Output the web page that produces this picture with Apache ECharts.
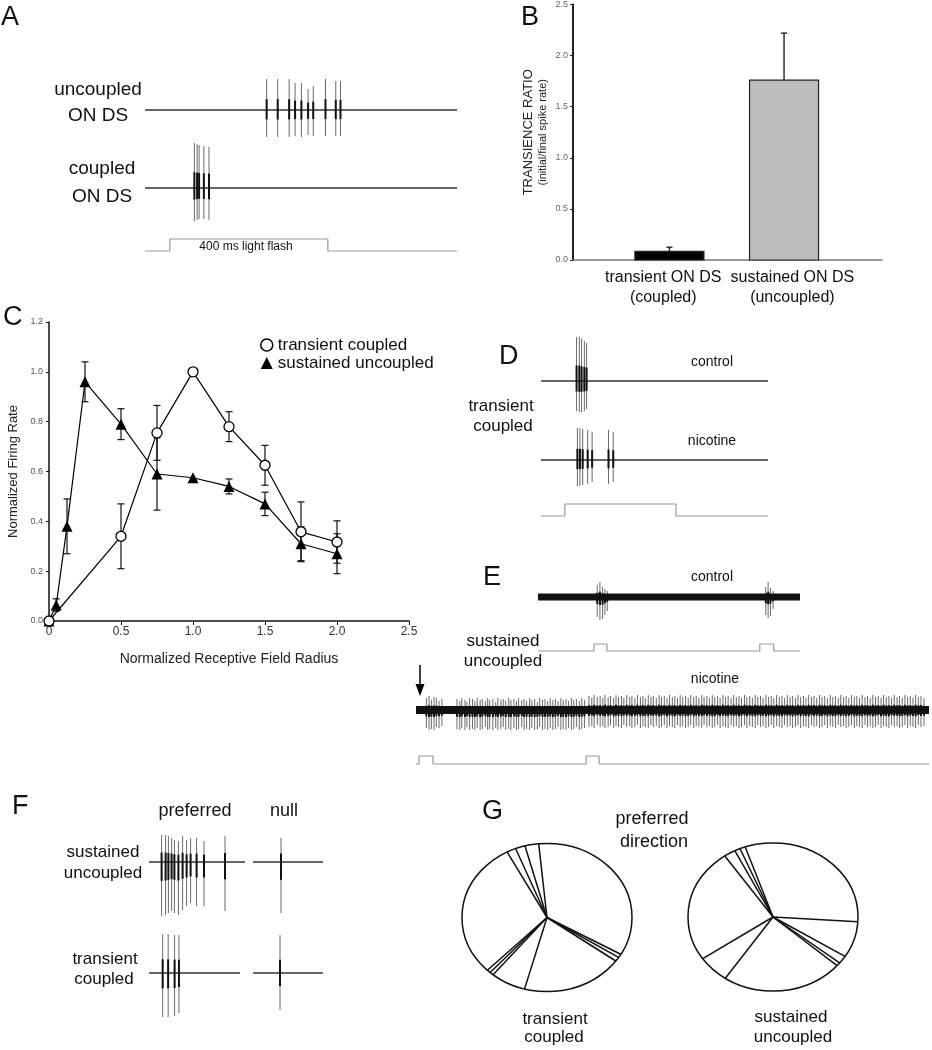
<!DOCTYPE html>
<html>
<head>
<meta charset="utf-8">
<title>ON DS cells: coupled vs uncoupled</title>
<script src="https://cdn.jsdelivr.net/npm/echarts@6/dist/echarts.min.js"></script>
<style>
  html, body { margin: 0; padding: 0; background: #fff; }
  #chart { width: 932px; height: 1050px; }
</style>
</head>
<body>
<div id="chart"></div>
<script>
const FONT = "'Liberation Sans', Arial, sans-serif";

// ---- A: responses to a 400 ms flash (time ms; spikes are [t, up, down])
const aRange = [-63, 727];
const aFlash = [[0, 400]];
const aUncoupledSpikes = [[245, 31, 27], [273, 31, 27], [302, 31, 27], [317, 27, 26], [333, 27, 27],
  [350, 21, 25], [363, 24, 26], [394, 31, 26], [420, 29, 26], [432, 29, 26]];
const aCoupledSpikes = [[62, 45, 33], [69, 44, 32], [74, 43, 31], [86, 42, 31], [99, 41, 32]];

// ---- B: transience ratio
const bCategories = ['transient ON DS\n(coupled)', 'sustained ON DS\n(uncoupled)'];
const bPositions = [0.312, 0.683];
const bLabelPositions = [0.292, 0.71];
const bValues = [0.085, 1.76];
const bErrors = [0.04, 0.46];

// ---- C: area-response curves
const cTransX = [0, 0.5, 0.75, 1.0, 1.25, 1.5, 1.75, 2.0];
const cTransY = [0, 0.34, 0.755, 1.0, 0.78, 0.625, 0.358, 0.317];
const cTransErr = [0, 0.13, 0.11, 0, 0.06, 0.08, 0.12, 0.085];
const cSustX = [0, 0.05, 0.125, 0.25, 0.5, 0.75, 1.0, 1.25, 1.5, 1.75, 2.0];
const cSustY = [0, 0.064, 0.38, 0.96, 0.79, 0.59, 0.575, 0.54, 0.47, 0.31, 0.27];
const cSustErr = [0, 0.025, 0.11, 0.08, 0.062, 0.145, 0, 0.03, 0.047, 0.068, 0.08];

// ---- D: transient coupled, control vs nicotine (ms)
const dRange = [-86, 731];
const dFlash = [[0, 400]];
const dControlSpikes = [[42, 44, 30], [52, 44, 31], [60, 42, 31], [70, 40, 30], [78, 38, 28]];
const dNicotineSpikes = [[45, 32, 26], [54, 32, 26], [64, 31, 25], [82, 30, 24], [98, 28, 22], [157, 30, 24], [174, 28, 22]];

// ---- E: sustained uncoupled, repeated flashes (s)
const eControlRange = [0, 15.7];
const eControlFlash = [[3.35, 4.13], [13.29, 14.13]];
const eControlSpikes = [[3.55, 12, 20], [3.71, 15, 23], [3.87, 10, 22], [4.01, 8, 18], [4.15, 6, 14],
  [13.65, 10, 18], [13.79, 15, 21], [13.93, 9, 19], [14.09, 6, 12]];
const eNicotineRange = [0, 30.7];
const eNicotineFlash = [[0.18, 1.02], [10.18, 10.96]];
const eNicotineSpikes = [
  [0.62, 12, 18], [0.78, 14, 20], [0.92, 10, 19], [1.08, 13, 20], [1.22, 12, 17], [1.38, 9, 18], [1.55, 11, 16],
  [2.45, 11, 19], [2.62, 9, 20], [2.74, 12, 18], [2.93, 10, 20], [3.05, 8, 17], [3.21, 12, 20], [3.38, 11, 19],
  [3.52, 9, 20], [3.66, 12, 18], [3.84, 10, 20], [3.97, 11, 19], [4.15, 9, 17], [4.29, 12, 20], [4.41, 10, 19],
  [4.6, 11, 20], [4.77, 8, 18], [4.9, 12, 20], [5.08, 10, 19], [5.22, 11, 17], [5.37, 9, 20], [5.55, 12, 19],
  [5.68, 10, 20], [5.86, 11, 18], [6.01, 9, 20], [6.14, 12, 19], [6.33, 10, 17], [6.47, 11, 20], [6.62, 9, 19],
  [6.8, 12, 20], [6.93, 10, 18], [7.1, 11, 20], [7.26, 8, 19], [7.4, 12, 17], [7.57, 10, 20], [7.72, 11, 19],
  [7.88, 9, 20], [8.03, 12, 18], [8.19, 10, 20], [8.34, 11, 19], [8.5, 9, 17], [8.67, 12, 20], [8.81, 10, 19],
  [8.98, 11, 20], [9.13, 9, 18], [9.3, 12, 20], [9.44, 10, 19], [9.6, 11, 17], [9.77, 9, 20], [9.92, 12, 19],
  [10.08, 10, 18],
  [10.35, 14, 17], [10.52, 12, 16], [10.66, 15, 18], [10.85, 13, 15], [11.02, 14, 17], [11.18, 12, 16],
  [11.31, 15, 18], [11.5, 13, 17], [11.64, 14, 15], [11.83, 12, 18], [11.97, 15, 16], [12.12, 13, 17],
  [12.3, 14, 18], [12.44, 12, 15], [12.61, 15, 17], [12.79, 13, 16], [12.92, 14, 18], [13.1, 12, 17],
  [13.25, 15, 15], [13.43, 13, 18], [13.58, 14, 16], [13.72, 12, 17], [13.9, 15, 18], [14.06, 13, 15],
  [14.2, 14, 17], [14.38, 12, 16], [14.55, 15, 18], [14.69, 13, 17], [14.86, 14, 15], [15.02, 12, 18],
  [15.17, 15, 16], [15.34, 13, 17], [15.49, 14, 18], [15.65, 12, 15], [15.81, 15, 17], [15.96, 13, 16],
  [16.13, 14, 18], [16.29, 12, 17], [16.44, 15, 15], [16.62, 13, 18], [16.77, 14, 16], [16.93, 12, 17],
  [17.1, 15, 18], [17.24, 13, 15], [17.41, 14, 17], [17.57, 12, 16], [17.73, 15, 18], [17.88, 13, 17],
  [18.05, 14, 15], [18.2, 12, 18], [18.37, 15, 16], [18.53, 13, 17], [18.68, 14, 18], [18.86, 12, 15],
  [19.01, 15, 17], [19.17, 13, 16], [19.33, 14, 18], [19.48, 12, 17], [19.66, 15, 15], [19.8, 13, 18],
  [19.97, 14, 16], [20.13, 12, 17], [20.3, 15, 18], [20.45, 13, 15], [20.62, 14, 17], [20.77, 12, 16],
  [20.94, 15, 18], [21.1, 13, 17], [21.26, 14, 15], [21.41, 12, 18], [21.58, 15, 16], [21.74, 13, 17],
  [21.9, 14, 18], [22.06, 12, 15], [22.22, 15, 17], [22.39, 13, 16], [22.54, 14, 18], [22.71, 12, 17],
  [22.86, 15, 15], [23.02, 13, 18], [23.19, 14, 16], [23.34, 12, 17], [23.5, 15, 18], [23.67, 13, 15],
  [23.82, 14, 17], [23.98, 12, 16], [24.15, 15, 18], [24.3, 13, 17], [24.46, 14, 15], [24.62, 12, 18],
  [24.79, 15, 16], [24.94, 13, 17], [25.1, 14, 18], [25.27, 12, 15], [25.42, 15, 17], [25.58, 13, 16],
  [25.74, 14, 18], [25.9, 12, 17], [26.06, 15, 15], [26.23, 13, 18], [26.38, 14, 16], [26.54, 12, 17],
  [26.7, 15, 18], [26.87, 13, 15], [27.02, 14, 17], [27.18, 12, 16], [27.34, 15, 18], [27.5, 13, 17],
  [27.66, 14, 15], [27.83, 12, 18], [27.98, 15, 16], [28.14, 13, 17], [28.3, 14, 18], [28.46, 12, 15],
  [28.62, 15, 17], [28.79, 13, 16], [28.94, 14, 18], [29.1, 12, 17], [29.26, 15, 15], [29.42, 13, 18],
  [29.58, 14, 16], [29.74, 12, 17], [29.9, 15, 18], [30.06, 13, 15], [30.22, 14, 17], [30.4, 12, 16]
];

// ---- F: moving-bar responses (ms)
const fPrefRange = [0, 480];
const fNullRange = [0, 350];
const fSustPrefSpikes = [[63, 27, 54], [83, 27, 53], [97, 26, 51], [113, 24, 49], [127, 22, 51], [147, 21, 53],
  [168, 26, 48], [188, 22, 44], [208, 24, 41], [238, 24, 44], [275, 21, 44], [380, 26, 49]];
const fSustNullSpikes = [[140, 24, 51]];
const fTransPrefSpikes = [[72, 39, 44], [101, 39, 44], [135, 38, 43], [158, 38, 40]];
const fTransNullSpikes = [[135, 38, 37]];

// ---- G: preferred directions (degrees, counter-clockwise from right)
const gTransientDirs = [95.6, 105, 111.6, 117.9, 225.5, 228, 230.6, 254.7, 324, 327.4, 330.2];
const gSustainedDirs = [109.1, 112.8, 116.6, 124.5, 214.3, 235.9, 318.9, 321.6, 327.9, 356.4];

// ------------------------------------------------------------------
const grid = [], xAxis = [], yAxis = [], series = [];

function addGrid(box, xa, ya) {
  const i = grid.length;
  grid.push(box);
  xAxis.push(Object.assign({ gridIndex: i }, xa));
  yAxis.push(Object.assign({ gridIndex: i }, ya));
  return i;
}
function hidden(min, max) {
  return { type: 'value', min: min, max: max, show: false, splitLine: { show: false } };
}

function spikeRender(params, api) {
  const t = api.value(0);
  const top = api.coord([t, api.value(1)]);
  const bot = api.coord([t, -api.value(2)]);
  const mid = api.coord([t, 0]);
  return {
    type: 'group',
    children: [
      { type: 'line', shape: { x1: top[0], y1: top[1], x2: bot[0], y2: bot[1] },
        style: { stroke: '#6a6a6a', lineWidth: 1 } },
      { type: 'line', shape: { x1: mid[0], y1: mid[1] - (mid[1] - top[1]) * 0.35,
        x2: mid[0], y2: mid[1] + (bot[1] - mid[1]) * 0.35 },
        style: { stroke: '#111', lineWidth: 2 } }
    ]
  };
}

function addTrace(range, box, spikes, band) {
  const i = addGrid({ left: box.left, top: box.base - box.half, width: box.right - box.left, height: box.half * 2 },
    hidden(range[0], range[1]), hidden(-box.half, box.half));
  series.push({ type: 'line', xAxisIndex: i, yAxisIndex: i, data: [[range[0], 0], [range[1], 0]],
    symbol: 'none', silent: true, clip: false, z: band ? 4 : 2,
    lineStyle: { color: band ? '#111' : '#333', width: band || 1.3 } });
  series.push({ type: 'custom', xAxisIndex: i, yAxisIndex: i, data: spikes, renderItem: spikeRender,
    silent: true, z: 3 });
}

function addStim(range, box, pulses) {
  const i = addGrid({ left: box.left, top: box.high, width: box.right - box.left, height: box.low - box.high },
    hidden(range[0], range[1]), hidden(0, 1));
  const pts = [[range[0], 0]];
  pulses.forEach(function (p) { pts.push([p[0], 0], [p[0], 1], [p[1], 1], [p[1], 0]); });
  pts.push([range[1], 0]);
  series.push({ type: 'line', xAxisIndex: i, yAxisIndex: i, data: pts, symbol: 'none', silent: true,
    clip: false, lineStyle: { color: '#9a9a9a', width: 1.2 } });
}

// A
addTrace(aRange, { left: 145, right: 457, base: 110, half: 36 }, aUncoupledSpikes);
addTrace(aRange, { left: 145, right: 457, base: 188, half: 48 }, aCoupledSpikes);
addStim(aRange, { left: 145, right: 457, high: 239, low: 251 }, aFlash);

// B
const bi = addGrid({ left: 573, top: 4, width: 309, height: 256 },
  {
    type: 'value', min: 0, max: 1,
    axisLine: { show: true, lineStyle: { color: '#777', width: 1.5 } },
    axisTick: { show: false },
    splitLine: { show: false },
    axisLabel: {
      customValues: bLabelPositions,
      formatter: function (v) { return bCategories[bLabelPositions.indexOf(v)] || ''; },
      fontSize: 16, lineHeight: 20, color: '#111', margin: 8, fontFamily: FONT
    }
  },
  {
    type: 'value', min: 0, max: 2.5, interval: 0.5,
    axisLine: { show: true, lineStyle: { color: '#222', width: 2 } },
    axisTick: { show: true, length: 3, lineStyle: { color: '#222' } },
    splitLine: { show: false },
    axisLabel: { fontSize: 9, color: '#666', margin: 5, fontFamily: FONT,
      formatter: function (v) { return v.toFixed(1); } },
    name: '{t|TRANSIENCE RATIO}\n{s|(initial/final spike rate)}',
    nameLocation: 'middle', nameRotate: 90, nameGap: 24,
    nameTextStyle: { rich: {
      t: { fontSize: 13, lineHeight: 15, color: '#222', fontFamily: FONT },
      s: { fontSize: 11, lineHeight: 13, color: '#222', fontFamily: FONT }
    } }
  });
const bFill = ['#000', '#bdbdbd'];
series.push({
  type: 'custom', xAxisIndex: bi, yAxisIndex: bi, silent: true,
  data: bPositions.map(function (p, k) { return [p, bValues[k], bValues[k] + bErrors[k]]; }),
  renderItem: function (params, api) {
    const x = api.value(0);
    const p0 = api.coord([x, 0]), p1 = api.coord([x, api.value(1)]), p2 = api.coord([x, api.value(2)]);
    const w = 69;
    return { type: 'group', children: [
      { type: 'line', shape: { x1: p1[0], y1: p1[1], x2: p2[0], y2: p2[1] }, style: { stroke: '#333', lineWidth: 1.5 } },
      { type: 'line', shape: { x1: p2[0] - 3, y1: p2[1], x2: p2[0] + 3, y2: p2[1] }, style: { stroke: '#333', lineWidth: 1.5 } },
      { type: 'rect', shape: { x: p0[0] - w / 2, y: p1[1], width: w, height: p0[1] - p1[1] },
        style: { fill: bFill[params.dataIndex], stroke: '#222', lineWidth: 1.2 } }
    ] };
  }
});

// C
const ci = addGrid({ left: 49, top: 322, width: 360, height: 299 },
  {
    type: 'value', min: 0, max: 2.5, interval: 0.5,
    axisLine: { show: true, lineStyle: { color: '#111', width: 1.5 } },
    axisTick: { show: true, length: 4, lineStyle: { color: '#111' } },
    splitLine: { show: false },
    axisLabel: { fontSize: 12, color: '#333', margin: 5, fontFamily: FONT,
      formatter: function (v) { return v === 0 ? '0' : v.toFixed(1); } },
    name: 'Normalized Receptive Field Radius', nameLocation: 'middle', nameGap: 31,
    nameTextStyle: { fontSize: 14, color: '#222', fontFamily: FONT }
  },
  {
    type: 'value', min: 0, max: 1.2, interval: 0.2,
    axisLine: { show: true, lineStyle: { color: '#111', width: 1.5 } },
    axisTick: { show: true, length: 3, lineStyle: { color: '#111' } },
    splitLine: { show: false },
    axisLabel: { fontSize: 9, color: '#555', margin: 6, fontFamily: FONT,
      formatter: function (v) { return v.toFixed(1); } },
    name: 'Normalized Firing Rate', nameLocation: 'middle', nameGap: 29,
    nameTextStyle: { fontSize: 13, color: '#222', fontFamily: FONT }
  });

function errRender(params, api) {
  const x = api.value(0);
  const lo = api.coord([x, api.value(1)]), hi = api.coord([x, api.value(2)]);
  const st = { stroke: '#111', lineWidth: 1.2 };
  return { type: 'group', children: [
    { type: 'line', shape: { x1: lo[0], y1: lo[1], x2: hi[0], y2: hi[1] }, style: st },
    { type: 'line', shape: { x1: hi[0] - 3.5, y1: hi[1], x2: hi[0] + 3.5, y2: hi[1] }, style: st },
    { type: 'line', shape: { x1: lo[0] - 3.5, y1: lo[1], x2: lo[0] + 3.5, y2: lo[1] }, style: st }
  ] };
}
function errData(xs, ys, es) {
  const out = [];
  xs.forEach(function (x, k) { if (es[k] > 0) out.push([x, ys[k] - es[k], ys[k] + es[k]]); });
  return out;
}
series.push({ type: 'custom', xAxisIndex: ci, yAxisIndex: ci, silent: true, z: 1,
  data: errData(cSustX, cSustY, cSustErr), renderItem: errRender });
series.push({ type: 'custom', xAxisIndex: ci, yAxisIndex: ci, silent: true, z: 1,
  data: errData(cTransX, cTransY, cTransErr), renderItem: errRender });
series.push({ name: 'sustained uncoupled', type: 'line', xAxisIndex: ci, yAxisIndex: ci, clip: false, z: 3,
  data: cSustX.map(function (x, k) { return [x, cSustY[k]]; }),
  symbol: 'triangle', symbolSize: 11, itemStyle: { color: '#000' },
  lineStyle: { color: '#000', width: 1.2 } });
series.push({ name: 'transient coupled', type: 'line', xAxisIndex: ci, yAxisIndex: ci, clip: false, z: 4,
  data: cTransX.map(function (x, k) { return [x, cTransY[k]]; }),
  symbol: 'circle', symbolSize: 10, itemStyle: { color: '#fff', borderColor: '#000', borderWidth: 1.3 },
  lineStyle: { color: '#000', width: 1.2 } });

// D
addTrace(dRange, { left: 541, right: 768, base: 381, half: 46 }, dControlSpikes);
addTrace(dRange, { left: 541, right: 768, base: 460, half: 34 }, dNicotineSpikes);
addStim(dRange, { left: 541, right: 768, high: 504, low: 516 }, dFlash);

// E
addTrace(eControlRange, { left: 538, right: 800, base: 597, half: 25 }, eControlSpikes, 7);
addStim(eControlRange, { left: 538, right: 800, high: 644, low: 651 }, eControlFlash);
addTrace(eNicotineRange, { left: 416, right: 929, base: 710, half: 22 }, eNicotineSpikes, 8);
addStim(eNicotineRange, { left: 416, right: 929, high: 756, low: 764 }, eNicotineFlash);

// F
addTrace(fPrefRange, { left: 149, right: 245, base: 862, half: 56 }, fSustPrefSpikes);
addTrace(fNullRange, { left: 253, right: 323, base: 862, half: 56 }, fSustNullSpikes);
addTrace(fPrefRange, { left: 149, right: 240, base: 973, half: 46 }, fTransPrefSpikes);
addTrace(fNullRange, { left: 253, right: 323, base: 973, half: 46 }, fTransNullSpikes);

// G
function dirRender(params, api) {
  const a = api.value(0) * Math.PI / 180;
  const c = api.coord([0, 0]);
  const e = api.coord([Math.cos(a), Math.sin(a)]);
  return { type: 'line', shape: { x1: c[0], y1: c[1], x2: e[0], y2: e[1] }, style: { stroke: '#111', lineWidth: 1.5 } };
}
function ellipseRender(params, api) {
  const c = api.coord([0, 0]);
  const s = api.size([1, 1]);
  return { type: 'ellipse', shape: { cx: c[0], cy: c[1], rx: s[0], ry: s[1] },
    style: { fill: 'none', stroke: '#111', lineWidth: 1.5 } };
}
function addRose(box, dirs) {
  const i = addGrid(box, hidden(-1, 1), hidden(-1, 1));
  series.push({ type: 'custom', xAxisIndex: i, yAxisIndex: i, silent: true, data: [[0, 0]], renderItem: ellipseRender });
  series.push({ type: 'custom', xAxisIndex: i, yAxisIndex: i, silent: true,
    data: dirs.map(function (d) { return [d]; }), renderItem: dirRender });
}
addRose({ left: 462, top: 843.5, width: 170, height: 148 }, gTransientDirs);
addRose({ left: 688, top: 843, width: 170, height: 148 }, gSustainedDirs);

// ------------------------------------------------------------------
function label(text, x, y, size, align) {
  return { type: 'text', x: x, y: y, silent: true,
    style: { text: text, font: size + 'px ' + FONT, fill: '#111',
      align: align || 'center', verticalAlign: 'middle',
      textAlign: align || 'center', textVerticalAlign: 'middle' } };
}
const graphics = [
  label('A', 1, 18, 27, 'left'), label('B', 521, 18, 27, 'left'), label('C', 3, 318, 27, 'left'),
  label('D', 499, 357, 27, 'left'), label('E', 483, 578, 27, 'left'), label('F', 12, 807, 27, 'left'),
  label('G', 482, 812, 27, 'left'),
  label('uncoupled', 98, 90, 19), label('ON DS', 98, 116, 19),
  label('coupled', 102, 169, 19), label('ON DS', 102, 197, 19),
  label('400 ms light flash', 246, 246.5, 12),
  label('transient', 501, 406, 17), label('coupled', 503, 426, 17),
  label('control', 712, 362, 14), label('nicotine', 712, 441, 14),
  label('sustained', 503, 641, 17), label('uncoupled', 503, 661, 17),
  label('control', 712, 577, 14), label('nicotine', 715, 679, 14),
  label('preferred', 195, 811, 18), label('null', 284, 811, 18),
  label('sustained', 103, 852, 17), label('uncoupled', 103, 873, 17),
  label('transient', 105, 959, 17), label('coupled', 104, 979, 17),
  label('preferred', 652, 819, 18), label('direction', 654, 842, 18),
  label('transient', 555, 1019, 17), label('coupled', 554, 1037, 17),
  label('sustained', 791, 1017, 17), label('uncoupled', 793, 1037, 17),
  { type: 'line', silent: true, shape: { x1: 420, y1: 665, x2: 420, y2: 688 }, style: { stroke: '#000', lineWidth: 1.5 } },
  { type: 'polygon', silent: true, shape: { points: [[415.5, 684], [424.5, 684], [420, 696]] }, style: { fill: '#000' } }
];

const chart = echarts.init(document.getElementById('chart'), null, { renderer: 'canvas' });
chart.setOption({
  animation: false,
  backgroundColor: '#fff',
  textStyle: { fontFamily: FONT },
  grid: grid,
  xAxis: xAxis,
  yAxis: yAxis,
  legend: {
    left: 255, top: 331, orient: 'vertical', itemWidth: 12, itemHeight: 12, itemGap: 0,
    selectedMode: false,
    textStyle: { fontSize: 17, color: '#111', lineHeight: 18, fontFamily: FONT },
    data: [
      { name: 'transient coupled', icon: 'circle', itemStyle: { color: '#fff', borderColor: '#000', borderWidth: 1.5 } },
      { name: 'sustained uncoupled', icon: 'triangle', itemStyle: { color: '#000' } }
    ]
  },
  series: series,
  graphic: graphics
});
</script>
</body>
</html>
